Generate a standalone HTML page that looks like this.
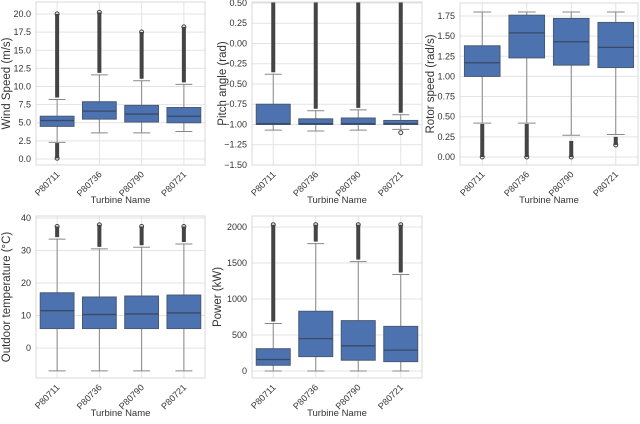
<!DOCTYPE html>
<html><head><meta charset="utf-8"><style>
body{margin:0;background:#fff;font-family:"Liberation Sans",sans-serif}
svg text{font-family:"Liberation Sans",sans-serif;fill:#333}
</style></head><body>
<svg id="c" width="640" height="419" xmlns="http://www.w3.org/2000/svg"></svg>
<script>
const categories=["P80711","P80736","P80790","P80721"];
// [whiskerLow, q1, median, q3, whiskerHigh, outlierMin, outlierMax]
const windStats=[[2.3,4.5,5.3,5.9,8.2,0.1,20.3],[3.6,5.5,6.6,7.9,11.6,null,20.5],[3.6,5.1,6.2,7.4,10.8,null,17.8],[3.8,5.0,5.9,7.1,10.3,null,18.5]];
const windLowOut=[[0.1,2.2],null,null,null];
const pitchStats=[[-1.07,-1.0,-0.99,-0.75,-0.38,null,0.55],[-1.08,-1.0,-0.99,-0.93,-0.83,null,0.55],[-1.07,-1.0,-0.99,-0.92,-0.82,null,0.55],[-1.06,-1.0,-0.99,-0.95,-0.88,null,0.55]];
const pitchLowOut=[null,null,null,[-1.1,-1.1]];
const rotorStats=[[0.42,1.0,1.17,1.38,1.80,null,null],[0.42,1.23,1.54,1.76,1.80,null,null],[0.27,1.14,1.43,1.72,1.80,null,null],[0.28,1.11,1.36,1.67,1.80,null,null]];
const rotorLowOut=[[0.0,0.41],[0.0,0.41],[0.0,0.2],[0.15,0.25]];
const tempStats=[[-7,6,11.5,17,33.5,null,38],[-7,6,10.3,15.7,30.5,null,38.5],[-7,6,10.5,16,31,null,38],[-7,6,10.8,16.3,32,null,38]];
const tempLowOut=[null,null,null,null];
const powerStats=[[0,80,160,310,660,null,2060],[0,200,450,830,1770,null,2060],[0,150,350,700,1520,null,2060],[0,130,290,620,1340,null,2060]];
const powerLowOut=[null,null,null,null];
const windTicks=[0,2.5,5,7.5,10,12.5,15,17.5,20];
const pitchTicks=[-1.5,-1.25,-1,-0.75,-0.5,-0.25,0,0.25,0.5];
const rotorTicks=[0,0.25,0.5,0.75,1,1.25,1.5,1.75];
const tempTicks=[0,10,20,30,40];
const powerTicks=[0,500,1000,1500,2000];

const NS="http://www.w3.org/2000/svg";
const svg=document.getElementById('c');
function mk(tag,attrs,parent){const e=document.createElementNS(NS,tag);for(const k in attrs)e.setAttribute(k,attrs[k]);(parent||svg).appendChild(e);return e;}
function fmt(v,d){return d===0?String(v):v.toFixed(d).replace('-','−');}

function panel(name,p,stats,lowOut,ticks,dec,ylabel){
  const g=mk('g',{});
  
  
  const ys=v=>p.y0+(p.top-v)/(p.top-p.bot)*(p.y1-p.y0);
  const step=(p.x1-p.x0)/categories.length;
  const xs=i=>p.x0+step*(i+0.5);
  ticks.forEach(t=>{
    const y=ys(t);
    const gl=mk('line',{x1:p.x0,x2:p.x1,y1:y,y2:y,stroke:'#e3e3e3','stroke-width':1},g);
    
    const tl=mk('text',{x:p.x0-5,y:y+3,'text-anchor':'end','font-size':9},g);
    tl.textContent=fmt(t,dec);
    
  });
  categories.forEach((c,i)=>{
    const gl=mk('line',{x1:xs(i),x2:xs(i),y1:p.y0,y2:p.y1,stroke:'#e3e3e3','stroke-width':1},g);
    
  });
  const clip=mk('clipPath',{id:'cl'+name},g);mk('rect',{x:p.x0,y:p.y0,width:p.x1-p.x0,height:p.y1-p.y0},clip);
  const inner=mk('g',{'clip-path':'url(#cl'+name+')'},g);
  stats.forEach((s,i)=>{
    const x=xs(i),w=step*0.8;
    const bg=mk('g',{},inner);
    
    
    mk('line',{x1:x,x2:x,y1:ys(s[0]),y2:ys(s[1]),stroke:'#888','stroke-width':1},bg);
    mk('line',{x1:x,x2:x,y1:ys(s[3]),y2:ys(s[4]),stroke:'#888','stroke-width':1},bg);
    mk('line',{x1:x-w/4,x2:x+w/4,y1:ys(s[0]),y2:ys(s[0]),stroke:'#888','stroke-width':1},bg);
    mk('line',{x1:x-w/4,x2:x+w/4,y1:ys(s[4]),y2:ys(s[4]),stroke:'#888','stroke-width':1},bg);
    if(s[6]!=null){mk('line',{x1:x,x2:x,y1:ys(s[4])-2,y2:ys(s[6])+2,stroke:'#444','stroke-width':4},bg);
      mk('circle',{cx:x,cy:ys(s[6])+2,r:2,fill:'none',stroke:'#444'},bg);}
    const lo=lowOut[i];
    if(lo){mk('line',{x1:x,x2:x,y1:ys(lo[1]),y2:ys(lo[0]),stroke:'#444','stroke-width':4},bg);
      mk('circle',{cx:x,cy:ys(lo[0]),r:2,fill:'none',stroke:'#444'},bg);}
    mk('rect',{x:x-w/2,y:ys(s[3]),width:w,height:Math.max(1,ys(s[1])-ys(s[3])),fill:'#4c72b0',stroke:'#4a5a75','stroke-width':1},bg);
    mk('line',{x1:x-w/2,x2:x+w/2,y1:ys(s[2]),y2:ys(s[2]),stroke:'#3a4a66','stroke-width':1.3},bg);
  });
  mk('rect',{x:p.x0,y:p.y0,width:p.x1-p.x0,height:p.y1-p.y0,fill:'none',stroke:'#d8d8d8','stroke-width':1},g);
  categories.forEach((c,i)=>{
    const x=xs(i),y=p.y1+7;
    const t=mk('text',{x:x+3,y:y+3,'text-anchor':'end','font-size':9,transform:`rotate(-45 ${x+3} ${y+3})`},g);
    t.textContent=c;
    
  });
  const xt=mk('text',{x:(p.x0+p.x1)/2,y:p.y1+38,'text-anchor':'middle','font-size':9.5},g);
  xt.textContent='Turbine Name';
  
  const yx=p.x0-(dec===0&&ticks[ticks.length-1]>=1000?31:26), yy=(p.y0+p.y1)/2;
  const yt=mk('text',{x:yx,y:yy,'text-anchor':'middle','font-size':11.5,transform:`rotate(-90 ${yx} ${yy})`},g);
  yt.textContent=ylabel;
  
}
panel('wind',{x0:36,x1:205,y0:2,y1:165,top:21.66,bot:-0.83},windStats,windLowOut,windTicks,1,'Wind Speed (m/s)');
panel('pitch',{x0:252,x1:422,y0:2,y1:165,top:0.512,bot:-1.5},pitchStats,pitchLowOut,pitchTicks,2,'Pitch angle (rad)');
panel('rotor',{x0:460,x1:638,y0:3,y1:165,top:1.911,bot:-0.099},rotorStats,rotorLowOut,rotorTicks,2,'Rotor speed (rad/s)');
panel('temp',{x0:36,x1:205,y0:216,y1:378,top:40.6,bot:-9.2},tempStats,tempLowOut,tempTicks,0,'Outdoor temperature (°C)');
panel('power',{x0:252,x1:422,y0:216,y1:378,top:2153,bot:-97},powerStats,powerLowOut,powerTicks,0,'Power (kW)');
</script>
</body></html>
